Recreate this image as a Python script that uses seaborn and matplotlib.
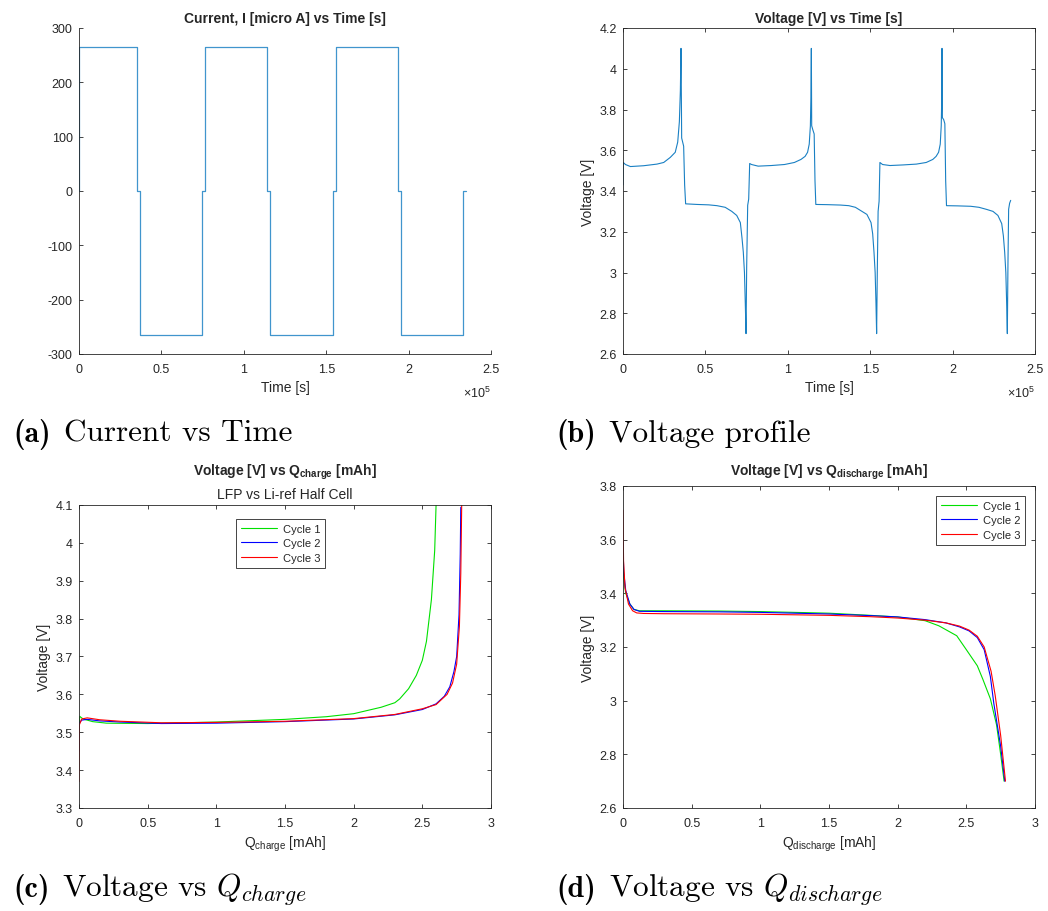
import numpy as np
import pandas as pd
import matplotlib
matplotlib.use("Agg")
import matplotlib.pyplot as plt
import seaborn as sns
from matplotlib.ticker import FuncFormatter, MultipleLocator

# ---------------- data ----------------
# (a) current steps [s], [micro A]
step_times = [0, 0, 35000, 36800, 74650, 76650, 114300, 116100, 153950, 155750, 193600, 195300, 233250, 235000]
step_current = [0, 265, 0, -265, 0, 265, 0, -265, 0, 265, 0, -265, 0, 0]

# (b) voltage profile [s], [V]
t_volt = [0, 150, 1500, 4500, 12500, 20600, 24700, 28700, 31700, 33200, 34200, 34800, 35200,
          35600, 36800, 37400, 38000, 45000, 52000, 57000, 62000, 66000, 69000, 71200, 72200, 73000,
          73700, 74200, 74650, 75050, 75660, 76270, 76870,
          78000, 82000, 90000, 98000, 104000, 108000, 110500, 112000, 113000, 113700, 114000, 114280,
          114500, 115200, 116000, 116500, 117000, 124000, 132000, 137000, 141000, 145000, 148000,
          150500, 151500, 152300, 153000, 153500, 153900, 154300, 154800, 155400, 155900,
          157500, 162000, 170000, 178000, 184000, 188000, 190000, 191500, 192500, 193100, 193400, 193570,
          193800, 194600, 195300, 195800, 196300, 203000, 211000, 216000, 220500, 224500, 227500,
          229800, 230800, 231600, 232300, 232800, 233210, 233600, 234000, 234600, 235250]
v_volt = [3.43, 3.54, 3.53, 3.52, 3.524, 3.532, 3.54, 3.565, 3.59, 3.64, 3.74, 3.89, 4.10,
          3.66, 3.62, 3.43, 3.337, 3.334, 3.332, 3.328, 3.32, 3.30, 3.28, 3.245, 3.17, 3.10,
          3.00, 2.85, 2.70, 3.03, 3.33, 3.36, 3.535,
          3.53, 3.522, 3.525, 3.53, 3.54, 3.555, 3.57, 3.59, 3.63, 3.72, 3.85, 4.10,
          3.72, 3.70, 3.68, 3.45, 3.334, 3.333, 3.331, 3.328, 3.32, 3.30, 3.285,
          3.245, 3.19, 3.10, 3.00, 2.85, 2.70, 3.00, 3.30, 3.35, 3.54,
          3.53, 3.525, 3.528, 3.532, 3.54, 3.555, 3.57, 3.59, 3.63, 3.72, 3.85, 4.10,
          3.76, 3.75, 3.73, 3.45, 3.328, 3.327, 3.325, 3.32, 3.31, 3.30, 3.28,
          3.24, 3.18, 3.10, 3.00, 2.85, 2.70, 3.05, 3.31, 3.34, 3.354]

# (c) charge curves: Q [mAh], V [V]
qc_c1 = [0, 0.005, 0.03, 0.1, 0.2, 0.5, 1.0, 1.5, 1.8, 2.0, 2.2, 2.3, 2.335, 2.4, 2.456, 2.5, 2.53, 2.566, 2.59, 2.6]
vc_c1 = [3.50, 3.542, 3.535, 3.528, 3.524, 3.523, 3.527, 3.534, 3.541, 3.549, 3.566, 3.578, 3.588, 3.615, 3.65, 3.69, 3.74, 3.85, 3.98, 4.10]
qc_c2 = [0, 0.003, 0.02, 0.06, 0.15, 0.3, 0.6, 1.0, 1.5, 2.0, 2.3, 2.5, 2.6, 2.66, 2.7, 2.73, 2.75, 2.767, 2.776, 2.78]
vc_c2 = [3.45, 3.525, 3.532, 3.534, 3.53, 3.527, 3.523, 3.524, 3.528, 3.535, 3.546, 3.56, 3.575, 3.595, 3.62, 3.66, 3.70, 3.81, 3.97, 4.094]
qc_c3 = [0, 0.003, 0.02, 0.06, 0.15, 0.3, 0.6, 1.0, 1.5, 2.0, 2.3, 2.5, 2.6, 2.68, 2.72, 2.75, 2.77, 2.78, 2.787]
vc_c3 = [3.37, 3.52, 3.535, 3.538, 3.533, 3.529, 3.525, 3.526, 3.529, 3.536, 3.547, 3.562, 3.573, 3.60, 3.63, 3.68, 3.78, 3.92, 4.11]

# (d) discharge curves: Q [mAh], V [V]
qd_c1 = [0, 0.005, 0.02, 0.05, 0.08, 0.12, 0.3, 0.7, 1.0, 1.5, 1.8, 2.0, 2.2, 2.3, 2.43, 2.5, 2.58, 2.62, 2.675, 2.72, 2.75, 2.775]
vd_c1 = [3.55, 3.46, 3.40, 3.36, 3.34, 3.335, 3.335, 3.334, 3.332, 3.326, 3.318, 3.312, 3.298, 3.279, 3.242, 3.19, 3.13, 3.08, 3.007, 2.91, 2.80, 2.70]
qd_c2 = [0, 0.005, 0.02, 0.05, 0.08, 0.12, 0.3, 0.7, 1.0, 1.5, 1.8, 2.0, 2.2, 2.35, 2.45, 2.52, 2.58, 2.63, 2.675, 2.70, 2.75, 2.78]
vd_c2 = [3.60, 3.48, 3.41, 3.36, 3.34, 3.333, 3.332, 3.331, 3.329, 3.323, 3.317, 3.312, 3.302, 3.29, 3.275, 3.26, 3.235, 3.19, 3.09, 2.99, 2.83, 2.70]
qd_c3 = [0, 0.004, 0.015, 0.04, 0.07, 0.1, 0.15, 0.3, 0.7, 1.0, 1.5, 1.8, 2.0, 2.2, 2.35, 2.45, 2.52, 2.58, 2.63, 2.68, 2.71, 2.75, 2.785]
vd_c3 = [3.71, 3.52, 3.42, 3.36, 3.335, 3.327, 3.325, 3.324, 3.323, 3.322, 3.318, 3.313, 3.308, 3.30, 3.29, 3.278, 3.263, 3.24, 3.20, 3.11, 3.02, 2.87, 2.70]

cycle_labels = ["Cycle 1", "Cycle 2", "Cycle 3"]
cycle_colors = ["#00e000", "#0000ff", "#ff0000"]

caption_tags = ["(a)", "(b)", "(c)", "(d)"]
caption_texts = ["Current vs Time", "Voltage profile",
                 r"Voltage vs $Q_{charge}$", r"Voltage vs $Q_{discharge}$"]

# ---------------- style ----------------
sns.set_theme(style="ticks")
plt.rcParams["font.family"] = ["Liberation Sans", "DejaVu Sans"]
plt.rcParams["axes.unicode_minus"] = False
plt.rcParams["mathtext.fontset"] = "custom"
plt.rcParams["mathtext.rm"] = "Liberation Sans"
plt.rcParams["mathtext.it"] = "Liberation Sans:italic"
plt.rcParams["mathtext.bf"] = "Liberation Sans:bold"

AX_COLOR = "#262626"
TICK_FS = 9
LABEL_FS = 10
TITLE_FS = 10
LEG_FS = 8

fig = plt.figure(figsize=(10.48, 9.12), dpi=100)
W, H = 1048, 912


def add_ax(left, top, right, bottom):
    return fig.add_axes([left / W, 1 - bottom / H, (right - left) / W, (bottom - top) / H])


ax_a = add_ax(79, 29, 491, 355)
ax_b = add_ax(623, 29, 1035, 355)
ax_c = add_ax(79, 506, 491, 809)
ax_d = add_ax(623, 487, 1035, 809)

gfmt = FuncFormatter(lambda v, p: f"{v:g}")
tfmt = FuncFormatter(lambda v, p: f"{v / 1e5:g}")


def style_ax(ax, box=True):
    for s in ax.spines.values():
        s.set_color(AX_COLOR)
        s.set_linewidth(0.6)
    if not box:
        ax.spines["top"].set_visible(False)
        ax.spines["right"].set_visible(False)
    ax.tick_params(direction="in", length=3, width=0.6, color=AX_COLOR, labelcolor=AX_COLOR,
                   labelsize=TICK_FS, top=box, right=box)
    ax.tick_params(axis="x", pad=6.5)
    ax.tick_params(axis="y", pad=4.5)
    ax.set_facecolor("white")


def legend(ax, **kw):
    leg = ax.legend(ax.lines[:3], cycle_labels, borderaxespad=0, fancybox=False,
                    edgecolor=AX_COLOR, framealpha=1, fontsize=LEG_FS, handlelength=3.3,
                    handletextpad=0.5, labelspacing=0.42, borderpad=0.42, **kw)
    leg.get_frame().set_linewidth(0.6)
    return leg


# (a) current
df_a = pd.DataFrame({"t": step_times, "I": step_current})
sns.lineplot(data=df_a, x="t", y="I", ax=ax_a, sort=False, estimator=None,
             drawstyle="steps-post", color="#0072BD", lw=0.9, alpha=0.75)
ax_a.set_xlim(0, 2.5e5)
ax_a.set_ylim(-300, 300)
ax_a.xaxis.set_major_locator(MultipleLocator(0.5e5))
ax_a.xaxis.set_major_formatter(tfmt)
ax_a.yaxis.set_major_locator(MultipleLocator(100))
ax_a.yaxis.set_major_formatter(gfmt)
style_ax(ax_a, box=False)
ax_a.set_xlabel("Time [s]", fontsize=LABEL_FS, color=AX_COLOR)
ax_a.set_ylabel("")
ax_a.set_title("Current, I [micro A] vs Time [s]", fontsize=TITLE_FS, fontweight="bold", pad=4.5)

# (b) voltage
df_b = pd.DataFrame({"t": t_volt, "V": v_volt})
sns.lineplot(data=df_b, x="t", y="V", ax=ax_b, sort=False, estimator=None,
             color="#0072BD", lw=0.8, alpha=0.9)
ax_b.set_xlim(0, 2.5e5)
ax_b.set_ylim(2.6, 4.2)
ax_b.xaxis.set_major_locator(MultipleLocator(0.5e5))
ax_b.xaxis.set_major_formatter(tfmt)
ax_b.yaxis.set_major_locator(MultipleLocator(0.2))
ax_b.yaxis.set_major_formatter(gfmt)
style_ax(ax_b)
ax_b.set_xlabel("Time [s]", fontsize=LABEL_FS, color=AX_COLOR)
ax_b.set_ylabel("Voltage [V]", fontsize=LABEL_FS, color=AX_COLOR)
ax_b.set_title("Voltage [V] vs Time [s]", fontsize=TITLE_FS, fontweight="bold", pad=4.5)

for ax in (ax_a, ax_b):
    ax.text(1.0, -0.118, r"$\times$10$^5$", transform=ax.transAxes, ha="right", va="center",
            fontsize=TICK_FS, color=AX_COLOR)


# (c) charge
def long_df(qs, vs):
    parts = []
    for lab, q, v in zip(cycle_labels, qs, vs):
        parts.append(pd.DataFrame({"Q": q, "V": v, "Cycle": lab}))
    return pd.concat(parts, ignore_index=True)


df_c = long_df([qc_c1, qc_c2, qc_c3], [vc_c1, vc_c2, vc_c3])
sns.lineplot(data=df_c, x="Q", y="V", hue="Cycle", hue_order=cycle_labels,
             palette=dict(zip(cycle_labels, cycle_colors)), ax=ax_c, sort=False,
             estimator=None, lw=0.8, legend=False)
ax_c.set_xlim(0, 3)
ax_c.set_ylim(3.3, 4.1)
ax_c.xaxis.set_major_locator(MultipleLocator(0.5))
ax_c.xaxis.set_major_formatter(gfmt)
ax_c.yaxis.set_major_locator(MultipleLocator(0.1))
ax_c.yaxis.set_major_formatter(gfmt)
style_ax(ax_c)
ax_c.set_xlabel(r"Q$_{\mathrm{charge}}$ [mAh]", fontsize=LABEL_FS, color=AX_COLOR)
ax_c.set_ylabel("Voltage [V]", fontsize=LABEL_FS, color=AX_COLOR)
ax_c.set_title("LFP vs Li-ref Half Cell", fontsize=TITLE_FS, pad=5)
ax_c.text(0.5, 1 + 30 / 303, r"Voltage [V] vs Q$_{\mathbf{charge}}$ [mAh]", transform=ax_c.transAxes,
          ha="center", va="baseline", fontsize=TITLE_FS, fontweight="bold")
legend(ax_c, loc="upper left", bbox_to_anchor=(0.381, 0.954))

# (d) discharge
df_d = long_df([qd_c1, qd_c2, qd_c3], [vd_c1, vd_c2, vd_c3])
sns.lineplot(data=df_d, x="Q", y="V", hue="Cycle", hue_order=cycle_labels,
             palette=dict(zip(cycle_labels, cycle_colors)), ax=ax_d, sort=False,
             estimator=None, lw=0.8, legend=False)
ax_d.set_xlim(0, 3)
ax_d.set_ylim(2.6, 3.8)
ax_d.xaxis.set_major_locator(MultipleLocator(0.5))
ax_d.xaxis.set_major_formatter(gfmt)
ax_d.yaxis.set_major_locator(MultipleLocator(0.2))
ax_d.yaxis.set_major_formatter(gfmt)
style_ax(ax_d)
ax_d.set_xlabel(r"Q$_{\mathrm{discharge}}$ [mAh]", fontsize=LABEL_FS, color=AX_COLOR)
ax_d.set_ylabel("Voltage [V]", fontsize=LABEL_FS, color=AX_COLOR)
ax_d.set_title(r"Voltage [V] vs Q$_{\mathbf{discharge}}$ [mAh]", fontsize=TITLE_FS,
               fontweight="bold", pad=8.5)
legend(ax_d, loc="upper right", bbox_to_anchor=(0.976, 0.969))

# label positions
for ax, axh in ((ax_a, 326), (ax_b, 326), (ax_c, 303), (ax_d, 322)):
    ax.xaxis.set_label_coords(0.5, -26 / axh)
    ax.yaxis.set_label_coords(-28 / 412, 0.5)

# sub-captions
cap_pos = [(13, 442), (556, 442), (13, 897), (556, 897)]
tags = []
for (x, y), tag in zip(cap_pos, caption_tags):
    tags.append(fig.text(x / W, 1 - y / H, tag, fontsize=21.5, family="cmb10",
                         va="baseline", ha="left", color="black"))
fig.canvas.draw()
renderer = fig.canvas.get_renderer()
for (x, y), t, txt in zip(cap_pos, tags, caption_texts):
    bb = t.get_window_extent(renderer)
    fig.text((bb.x1 + 13) / W, 1 - y / H, txt, fontsize=22.5, family="cmr10",
             math_fontfamily="cm", va="baseline", ha="left", color="black")

fig.savefig("out.png", dpi=100, facecolor="white")
